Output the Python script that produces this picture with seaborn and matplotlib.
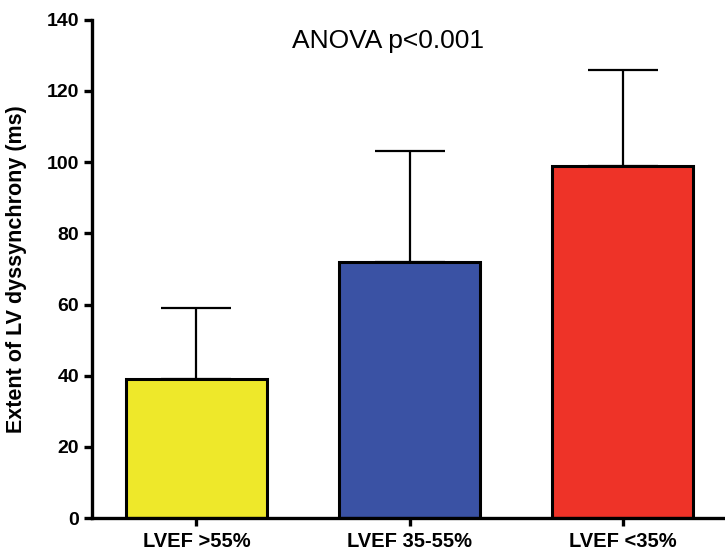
import seaborn as sns
import matplotlib.pyplot as plt
import pandas as pd

groups = ['LVEF >55%', 'LVEF 35-55%', 'LVEF <35%']
means = [39, 72, 99]
upper = [59, 103, 126]
colors = ['#EEE82A', '#3A52A4', '#EE3328']

sns.set_style('ticks')
plt.rcParams['font.family'] = ['Liberation Sans', 'DejaVu Sans']
plt.rcParams['text.color'] = 'black'
plt.rcParams['axes.labelcolor'] = 'black'
plt.rcParams['xtick.color'] = 'black'
plt.rcParams['ytick.color'] = 'black'

df = pd.DataFrame({'group': groups, 'mean': means})

fig = plt.figure(figsize=(7.25, 5.5), dpi=100)
ax = fig.add_axes([0.127, 0.058, 0.873, 0.906])

sns.barplot(data=df, x='group', y='mean', hue='group', palette=colors,
            order=groups, hue_order=groups, legend=False, width=0.66,
            saturation=1, edgecolor='black', linewidth=2.2, ax=ax, zorder=2)

# one-sided error bars (upward only)
err = [m_u - m for m, m_u in zip(means, upper)]
ax.errorbar(range(len(groups)), means, yerr=[[0] * len(err), err], fmt='none',
            ecolor='black', elinewidth=1.6, capsize=25, capthick=1.6, zorder=1)

ax.set_ylim(0, 140)
ax.set_yticks(range(0, 141, 20))
ax.set_xlim(-0.49, 2.48)

for s in ['top', 'right']:
    ax.spines[s].set_visible(False)
for s in ['left', 'bottom']:
    ax.spines[s].set_linewidth(2.4)
    ax.spines[s].set_color('black')

ax.tick_params(axis='both', length=6, width=2.4, color='black', labelsize=14)
ax.tick_params(axis='x', labelsize=14.5, pad=4)
for lab in ax.get_xticklabels() + ax.get_yticklabels():
    lab.set_fontweight('bold')

ax.set_xlabel('')
ax.set_ylabel('Extent of LV dyssynchrony (ms)', fontsize=15.5, fontweight='bold', labelpad=14)

ax.text(0.9, 134, 'ANOVA p<0.001', fontsize=19, ha='center', va='center')

fig.savefig('out.png', dpi=100)
